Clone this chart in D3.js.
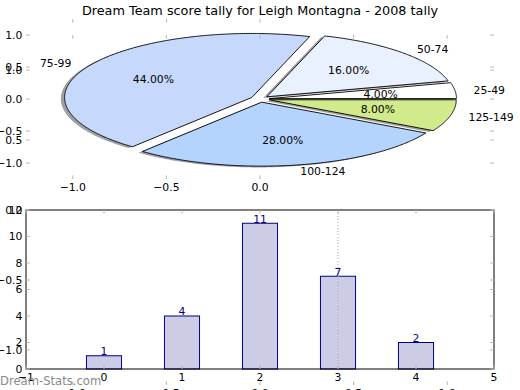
<!DOCTYPE html>
<html><head><meta charset="utf-8">
<script src="https://cdn.jsdelivr.net/npm/d3@7"></script>
<style>body{margin:0;background:#fff}svg{display:block}text{font-family:"DejaVu Sans",sans-serif}</style>
</head><body><svg id="c" width="520" height="390"></svg>
<script>
const title = "Dream Team score tally for Leigh Montagna - 2008 tally";
const categories = ["25-49","50-74","75-99","100-124","125-149"];
const counts = [1,4,11,7,2];
const sliceColors = ["#ffffff","#e9f0fe","#c6d9fd","#b4d4fe","#d0ea8c"];
const explode = [0.05,0.05,0.05,0.05,0.05];
const pieTicksX = [-1,-0.5,0];
const pieTicksY = [-1,-0.5,0,0.5,1];
const outerTicks = [-1,-0.5,0,0.5,1];
const barTicksX = [-1,0,1,2,3,4,5];
const barTicksY = [0,2,4,6,8,10,12];
const barPositions = [0,1,2,3,4];
const dottedAt = [3];
const watermark = "Dream-Stats.com";

const svg = d3.select("#c");
const FS = 10.8, TICK = 3.6, TICKC = "#b4b4b4";
const fmt1 = d3.format(".1f"), fmt0 = d3.format("d");

// scales
const pxP = d3.scaleLinear().domain([-1.25,1.25]).range([26,494]);
const pyP = d3.scaleLinear().domain([-1.25,1.25]).range([179,19]);
const pxO = d3.scaleLinear().domain([-1.25,1.25]).range([26,494]);
const pyO = d3.scaleLinear().domain([-1.25,1.25]).range([385,35]);
const pxB = d3.scaleLinear().domain([-1,5]).range([26,494]);
const pyB = d3.scaleLinear().domain([0,12]).range([369,210]);

function ticks(g, xs, ys, xt, yt, fx, fy, labelX, labelY){
  const [x0,x1] = xs.range(), [y0,y1] = ys.range(); // y0 bottom, y1 top
  xt.forEach(v=>{
    const x = xs(v);
    g.append("line").attr("x1",x).attr("x2",x).attr("y1",y1).attr("y2",y1+TICK).attr("stroke",TICKC);
    g.append("line").attr("x1",x).attr("x2",x).attr("y1",y0).attr("y2",y0-TICK).attr("stroke",TICKC);
    if(labelX) g.append("text").attr("x",x).attr("y",y0+TICK+8.6).attr("text-anchor","middle").attr("font-size",FS).text(fx(v));
  });
  yt.forEach(v=>{
    const y = ys(v);
    g.append("line").attr("y1",y).attr("y2",y).attr("x1",x0).attr("x2",x0+TICK).attr("stroke",TICKC);
    g.append("line").attr("y1",y).attr("y2",y).attr("x1",x1).attr("x2",x1-TICK).attr("stroke",TICKC);
    if(labelY) g.append("text").attr("x",x0-TICK).attr("y",y).attr("dy","0.36em").attr("text-anchor","end").attr("font-size",FS).text(fy(v));
  });
}

// title
svg.append("text").attr("x",260).attr("y",15).attr("text-anchor","middle").attr("font-size",12.8).text(title);

// ---- pie ----
const total = d3.sum(counts);
const pie = d3.pie().sort(null).startAngle(Math.PI/2).endAngle(-1.5*Math.PI);
const arcs = pie(counts);
const gP = svg.append("g");
const line = d3.line().x(d=>pxP(d[0])).y(d=>pyP(d[1]));
const wedges = arcs.map((a,i)=>{
  const t1 = Math.PI/2 - a.startAngle, t2 = Math.PI/2 - a.endAngle, tm=(t1+t2)/2;
  const cx = explode[i]*Math.cos(tm), cy = explode[i]*Math.sin(tm);
  const n = Math.max(8, Math.ceil((t2-t1)/0.01));
  const pts = [[cx,cy]];
  for(let k=0;k<=n;k++){const t=t1+(t2-t1)*k/n; pts.push([cx+Math.cos(t), cy+Math.sin(t)]);}
  return {i, t1, t2, tm, cx, cy, pts};
});
// shadows
wedges.forEach(w=>{
  const c = d3.rgb(sliceColors[w.i]);
  const sc = d3.rgb(c.r*0.3,c.g*0.3,c.b*0.3);
  gP.append("path").attr("d", d3.line().x(d=>pxP(d[0]-0.02)).y(d=>pyP(d[1]-0.02))(w.pts)+"Z")
    .attr("fill",sc).attr("fill-opacity",0.5).attr("stroke","none");
});
wedges.forEach(w=>{
  gP.append("path").attr("d", line(w.pts)+"Z").attr("fill",sliceColors[w.i]).attr("stroke","#000").attr("stroke-width",0.9).attr("stroke-linejoin","miter");
});
wedges.forEach(w=>{
  const lx = w.cx + 1.1*Math.cos(w.tm), ly = w.cy + 1.1*Math.sin(w.tm);
  gP.append("text").attr("x",pxP(lx)).attr("y",pyP(ly)).attr("dy","0.36em")
    .attr("text-anchor", lx>0?"start":"end").attr("font-size",FS).text(categories[w.i]);
  const qx = w.cx + 0.6*Math.cos(w.tm), qy = w.cy + 0.6*Math.sin(w.tm);
  gP.append("text").attr("x",pxP(qx)).attr("y",pyP(qy)).attr("dy","0.36em")
    .attr("text-anchor","middle").attr("font-size",FS).text(d3.format(".2f")(counts[w.i]/total*100)+"%");
});
ticks(svg.append("g"), pxP, pyP, pieTicksX, pieTicksY, fmt1, fmt1, true, true);

// ---- bar chart ----
const gB = svg.append("g");
gB.append("rect").attr("x",26).attr("y",210).attr("width",468).attr("height",159).attr("fill","#fff");
const bw = 0.45;
gB.selectAll("rect.bar").data(counts).join("rect").attr("class","bar")
  .attr("x",(d,i)=>pxB(barPositions[i]-bw/2)).attr("width",pxB(bw)-pxB(0))
  .attr("y",d=>pyB(d)).attr("height",d=>pyB(0)-pyB(d))
  .attr("fill","#ccccE6").attr("stroke","#000080").attr("stroke-width",1);
dottedAt.forEach(v=>{
  gB.append("line").attr("x1",pxB(v)).attr("x2",pxB(v)).attr("y1",pyB(12)).attr("y2",pyB(0))
    .attr("stroke","#a8a8a8").attr("stroke-width",1).attr("stroke-dasharray","1,2");
});
gB.selectAll("text.bl").data(counts).join("text").attr("class","bl")
  .attr("x",(d,i)=>pxB(barPositions[i])).attr("y",d=>pyB(d)).attr("dy","-0.05em")
  .attr("text-anchor","middle").attr("font-size",FS).attr("fill","#000080").text(d=>d);
gB.append("rect").attr("x",26).attr("y",210).attr("width",468).attr("height",159).attr("fill","none").attr("stroke","#000").attr("stroke-width",1);
ticks(svg.append("g"), pxB, pyB, barTicksX, barTicksY, fmt0, fmt0, true, true);

// ---- outer (full) axes ----
ticks(svg.append("g"), pxO, pyO, outerTicks, outerTicks, fmt1, fmt1, true, true);

// watermark
svg.append("text").attr("x",0).attr("y",385).attr("font-size",11.6).attr("fill","#8a8a8a").text(watermark);
</script></body></html>
